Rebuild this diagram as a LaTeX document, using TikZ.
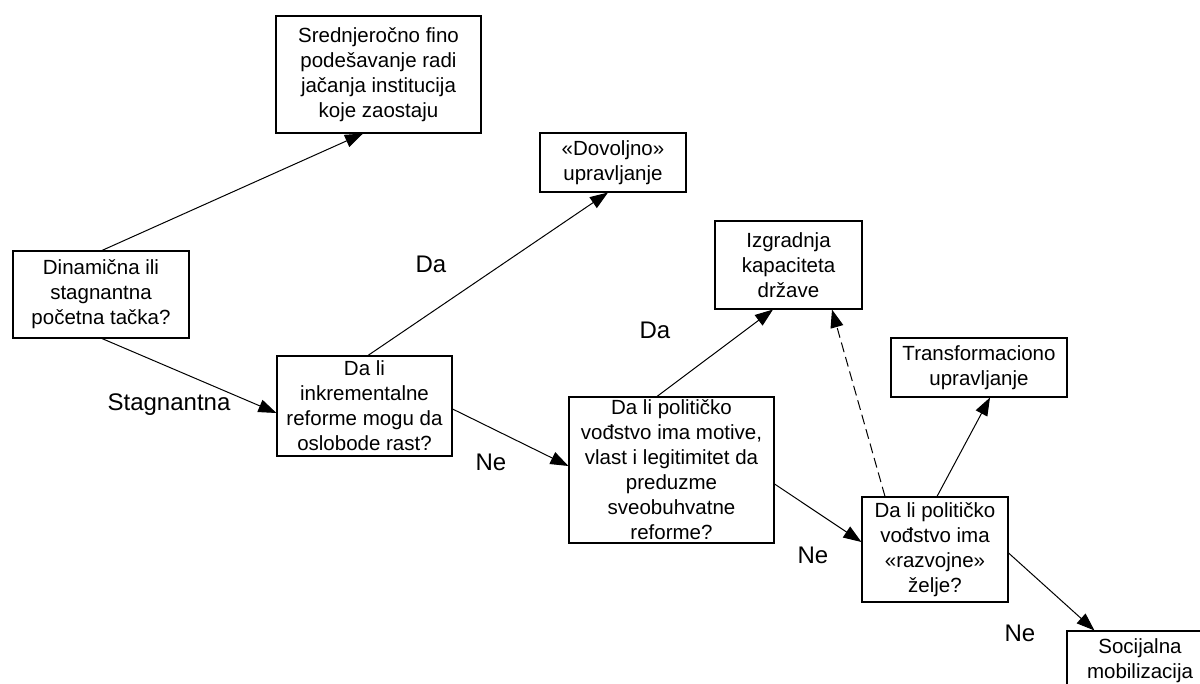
\documentclass[tikz,border=0pt]{standalone}
\usepackage{fontspec}
\setmainfont{Liberation Sans}
\usetikzlibrary{arrows.meta}
\begin{document}
\begin{tikzpicture}[x=1pt,y=-1pt,
  box/.style={draw, line width=1.1pt, align=center, inner sep=0pt, fill=white,
    font=\fontsize{20.5}{25}\selectfont},
  lbl/.style={font=\fontsize{24}{28}\selectfont, inner sep=0pt},
  conn/.style={line width=1pt, -{Triangle[length=18pt,width=13pt]}},
  dashconn/.style={conn, dash pattern=on 10pt off 5pt}]
\useasboundingbox (0,0) rectangle (1200,684);
\clip (0,0) rectangle (1200,684);
\fill[white] (0,0) rectangle (1200,684);

\node[box, minimum width=205pt, minimum height=117pt] (sred) at (378.5,74.5)
  {Srednjeročno fino\\podešavanje radi\\jačanja institucija\\koje zaostaju};
\node[box, minimum width=146pt, minimum height=59pt] (dov) at (613,162.5)
  {«Dovoljno»\\upravljanje};
\node[box, minimum width=176pt, minimum height=87pt] (din) at (101,294.5)
  {Dinamična ili\\stagnantna\\početna tačka?};
\node[box, minimum width=175pt, minimum height=100pt] (ink) at (364.5,406)
  {Da li\\inkrementalne\\reforme mogu da\\oslobode rast?};
\node[box, minimum width=147pt, minimum height=88pt] (izg) at (788.5,265)
  {Izgradnja\\kapaciteta\\države};
\node[box, minimum width=176pt, minimum height=59pt] (tra) at (979,367.5)
  {Transformaciono\\upravljanje};
\node[box, minimum width=205pt, minimum height=146pt] (pol) at (671.5,470)
  {Da li političko\\vođstvo ima motive,\\vlast i legitimitet da\\preduzme\\sveobuhvatne\\reforme?};
\node[box, minimum width=146pt, minimum height=105pt] (raz) at (935,549.5)
  {Da li političko\\vođstvo ima\\«razvojne»\\želje?};
\node[box, minimum width=146pt, minimum height=59pt] (soc) at (1140,660.5)
  {Socijalna\\mobilizacija};

\draw[conn] ([xshift=1pt]din.north) -- ([xshift=-15.5pt]sred.south);
\draw[conn] ([xshift=1pt]din.south) -- ([yshift=-7pt]ink.west);
\draw[conn] ([xshift=3.5pt]ink.north) -- ([xshift=-5pt]dov.south);
\draw[conn] ([yshift=-3pt]ink.east) -- ([yshift=4pt]pol.west);
\draw[conn] ([xshift=-14.5pt]pol.north) -- ([xshift=-15.5pt]izg.south);
\draw[conn] ([yshift=-14pt]pol.east) -- ([yshift=7.5pt]raz.west);
\draw[dashconn] ([xshift=-50pt]raz.north) -- ([xshift=43.5pt]izg.south);
\draw[conn] ([xshift=2pt]raz.north) -- ([xshift=11pt]tra.south);
\draw[conn] ([yshift=-3.5pt]raz.east) -- ([xshift=28pt]soc.north west);

\node[lbl] (da1) at (431,264) {Da};
\node[lbl] (stag) at (169,405) {Stagnantna};
\node[lbl] (ne1) at (491,462) {Ne};
\node[lbl] (da2) at (655,330) {Da};
\node[lbl] (ne2) at (813,555) {Ne};
\node[lbl] (ne3) at (1020,633) {Ne};
\end{tikzpicture}
\end{document}
